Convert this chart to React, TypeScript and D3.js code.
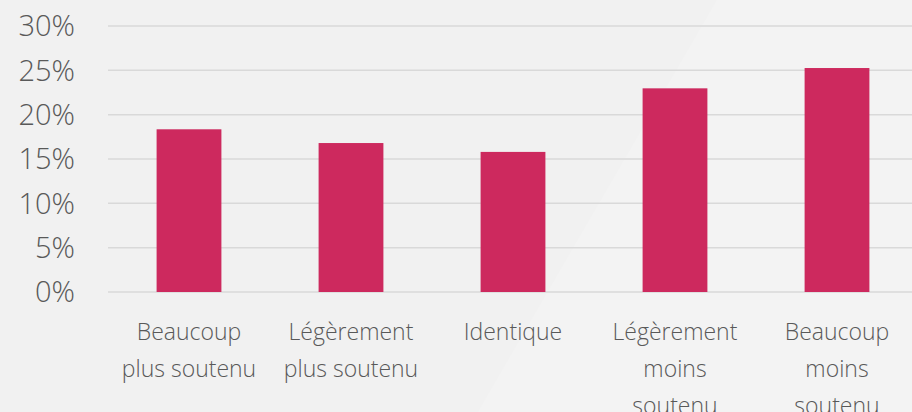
import React from 'react';
import * as d3 from 'd3';

const width = 912;
const height = 412;

const categories = [
  'Beaucoup\nplus soutenu',
  'Légèrement\nplus soutenu',
  'Identique',
  'Légèrement\nmoins\nsoutenu',
  'Beaucoup\nmoins\nsoutenu',
];
const values = [0.1835, 0.168, 0.158, 0.2297, 0.2526];
const yTicks = [0, 0.05, 0.1, 0.15, 0.2, 0.25, 0.3];

const barColor = '#CD295E';
const gridColor = '#D9D9D9';
const textColor = '#595959';
const font = '"Open Sans", sans-serif';

const margin = {top: 26, right: -6, bottom: 120, left: 108};

export default function App() {
  const x = d3
    .scaleBand<string>()
    .domain(categories)
    .range([margin.left, width - margin.right])
    .paddingInner(0.6)
    .paddingOuter(0.3);

  const y = d3
    .scaleLinear()
    .domain([0, 0.3])
    .range([height - margin.bottom, margin.top]);

  const fmt = d3.format('.0%');

  return (
    <svg
      width={width}
      height={height}
      style={{display: 'block', position: 'absolute', left: 0, top: 0}}
    >
      <rect width={width} height={height} fill="#F1F1F1" />
      {/* faint lighter diagonal panel */}
      <polygon points="717,0 912,0 912,412 478,412" fill="#F3F3F3" />

      <g>
        {yTicks.map(t => (
          <line
            key={t}
            x1={margin.left}
            x2={width}
            y1={y(t)}
            y2={y(t)}
            stroke={gridColor}
            strokeWidth={1.5}
          />
        ))}
      </g>

      <g>
        {yTicks.map(t => (
          <text
            key={t}
            x={75}
            y={y(t)}
            dy="0.36em"
            textAnchor="end"
            fontFamily={font}
            fontWeight={300}
            fontSize={29}
            fill={textColor}
          >
            {fmt(t)}
          </text>
        ))}
      </g>

      <g>
        {categories.map((c, i) => (
          <rect
            key={c}
            x={x(c)}
            y={y(values[i])}
            width={x.bandwidth()}
            height={y(0) - y(values[i])}
            fill={barColor}
          />
        ))}
      </g>

      <g>
        {categories.map(c => (
          <text
            key={c}
            x={(x(c) ?? 0) + x.bandwidth() / 2}
            y={340}
            textAnchor="middle"
            fontFamily={font}
            fontWeight={300}
            fontSize={23}
            fill={textColor}
          >
            {c.split('\n').map((line, j) => (
              <tspan key={j} x={(x(c) ?? 0) + x.bandwidth() / 2} dy={j === 0 ? 0 : 37}>
                {line}
              </tspan>
            ))}
          </text>
        ))}
      </g>
    </svg>
  );
}
